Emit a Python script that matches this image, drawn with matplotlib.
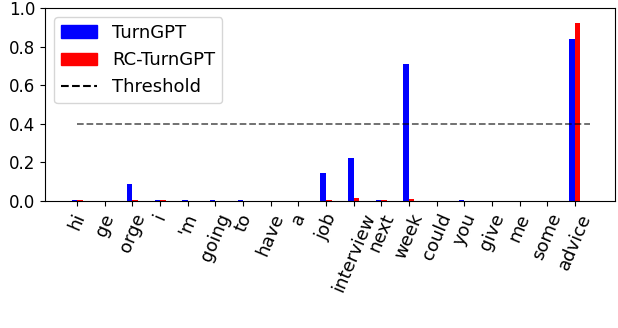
import numpy as np
import matplotlib.pyplot as plt
from matplotlib.lines import Line2D
from matplotlib.patches import Patch

# Tokens and end-of-turn probabilities
tokens = ['hi', 'ge', 'orge', 'i', "'m", 'going', 'to', 'have', 'a', 'job',
          'interview', 'next', 'week', 'could', 'you', 'give', 'me', 'some', 'advice']
turngpt = [0.005, 0.0, 0.09, 0.005, 0.005, 0.005, 0.005, 0.0, 0.0, 0.145,
           0.225, 0.005, 0.71, 0.0, 0.005, 0.0, 0.0, 0.0, 0.84]
rc_turngpt = [0.005, 0.0, 0.004, 0.005, 0.0, 0.0, 0.0, 0.0, 0.0, 0.006,
              0.015, 0.005, 0.01, 0.0, 0.0, 0.0, 0.0, 0.0, 0.92]
threshold = 0.4

x = np.arange(len(tokens))
w = 0.2

fig = plt.figure(figsize=(6.18, 3.28), dpi=100)
ax = fig.add_axes([0.073, 0.387, 0.922, 0.589])

ax.bar(x - w / 2, turngpt, width=w, color='blue')
ax.bar(x + w / 2, rc_turngpt, width=w, color='red')
ax.hlines(threshold, 0, 18.55, colors='k', linestyles='--', alpha=0.6, linewidth=1.3)

ax.set_ylim(0, 1.0)
ax.set_xlim(-1.16, 19.45)
ax.set_yticks([0.0, 0.2, 0.4, 0.6, 0.8, 1.0])
ax.set_xticks(x)
ax.set_xticklabels(tokens, rotation=67, ha='center', fontsize=13)
ax.tick_params(axis='y', labelsize=12)

handles = [Patch(color='blue', label='TurnGPT'),
           Patch(color='red', label='RC-TurnGPT'),
           Line2D([0], [0], color='k', linestyle='--', label='Threshold')]
ax.legend(handles=handles, loc='upper left', fontsize=13)

fig.savefig('out.png')
